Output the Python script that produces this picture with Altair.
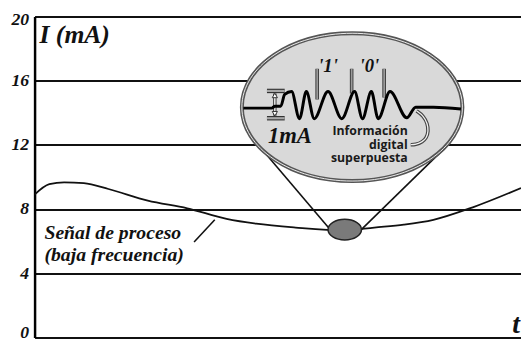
import altair as alt
import pandas as pd

# ---------------- data (t in time units, values in mA) ----------------
y_ticks = [0, 4, 8, 12, 16, 20]

# process signal (low frequency)
signal_t = [0, 15, 30, 50, 75, 115, 155, 195, 225, 265, 315, 345, 375, 405, 445, 494]
signal_mA = [8.9, 9.55, 9.67, 9.61, 9.25, 8.53, 8.05, 7.39, 7.09, 6.85, 6.67, 6.85, 7.03, 7.33, 8.11, 9.31]

# magnifier (lens) and the spot on the signal it magnifies
lens_t, lens_mA = [322.5], [14.35]
spot_t, spot_mA = [315], [6.72]
conn_t, conn_mA = [227, 417], [12.01, 11.83]
conn_t2, conn_mA2 = [301, 331], [6.67, 6.67]

# superimposed digital (FSK) signal inside the lens
wave_t = [212, 241, 244, 250, 254, 261, 269, 276, 284, 298, 312, 325, 333, 342, 349, 361, 378, 387, 405, 433]
wave_mA = [14.29, 14.29, 14.41, 14.41, 15.14, 15.32, 13.63, 15.32, 13.63, 15.32, 13.63, 15.32, 13.63,
           15.32, 13.63, 15.32, 13.69, 14.35, 14.35, 14.23]

# bit separators and bit labels
sep_t = [287, 322, 355]
sep_top = [16.74, 16.74, 16.74]
sep_bottom = [14.83, 15.2, 14.95]
bit_text = ["'1'", "'0'"]
bit_t = [298, 340]
bit_mA = [16.52, 16.52]

# 1 mA amplitude bracket
bar_t, bar_t2, bar_mA = [236, 236], [254, 254], [15.36, 13.66]
arrow_t, arrow_top, arrow_bottom = [244], [15.2], [13.82]
head_t, head_mA, head_shape = [244, 244], [15.08, 13.94], ["triangle-up", "triangle-down"]
amp_text, amp_t, amp_mA = ["1mA"], [237], [12.13]

# note text (three lines) and its pointer
info_lines = ["Información", "digital", "superpuesta"]
info_t, info_mA = [379], [12.6]
hook_t = [388, 395, 399, 400, 398, 394, 387, 382]
hook_mA = [14.11, 13.81, 13.33, 12.85, 12.43, 12.19, 12.01, 12.01]

# process signal label and its pointer
proc_lines = ["Señal de proceso", "(baja frecuencia)"]
proc_t = [10, 10]
proc_mA = [6.13, 4.74]
slash_t, slash_mA, slash_t2, slash_mA2 = [162], [5.95], [183], [7.33]

# axis captions
ycap_text, ycap_t, ycap_mA = ["I (mA)"], [5], [18.32]
tcap_text, tcap_t, tcap_mA = ["t"], [493], [0.25]

# ---------------- chart ----------------
SERIF = "Liberation Serif"
xs = alt.Scale(domain=[0, 494], nice=False, zero=False)
ys = alt.Scale(domain=[0, 20], nice=False)
yaxis = alt.Axis(
    values=y_ticks, title=None, grid=True, gridColor="#111", gridWidth=2, gridOpacity=1,
    domain=True, domainColor="#000", domainWidth=2.5, ticks=False,
    labelFont=SERIF, labelFontSize=18, labelFontStyle="italic", labelFontWeight="bold",
    labelColor="#111", labelPadding=6,
    labelBaseline={"condition": {"test": "datum.value == 0", "value": "alphabetic"}, "value": "middle"},
    labelOffset={"condition": {"test": "datum.value == 20", "value": 3}, "value": 0},
)
X = alt.X("t:Q", scale=xs, axis=None)
Y = alt.Y("v:Q", scale=ys, axis=yaxis)


def df(t, v, **extra):
    d = {"t": t, "v": v}
    d.update(extra)
    return pd.DataFrame(d)


def ellipse_path(r):
    k = 0.5523
    return (f"M -1 0 C -1 {-k*r:.4f} {-k:.4f} {-r} 0 {-r} "
            f"C {k:.4f} {-r} 1 {-k*r:.4f} 1 0 "
            f"C 1 {k*r:.4f} {k:.4f} {r} 0 {r} "
            f"C {-k:.4f} {r} -1 {k*r:.4f} -1 0 Z")


signal = alt.Chart(df(signal_t, signal_mA)).mark_line(
    color="#111", strokeWidth=1.8, interpolate="monotone", clip=True).encode(x=X, y=Y)

slash = alt.Chart(df(slash_t, slash_mA, t2=slash_t2, v2=slash_mA2)).mark_rule(
    color="#111", strokeWidth=1.6).encode(x=X, y=Y, x2="t2:Q", y2="v2:Q")

conn = alt.Chart(df(conn_t, conn_mA, t2=conn_t2, v2=conn_mA2)).mark_rule(
    color="#111", strokeWidth=1.6).encode(x=X, y=Y, x2="t2:Q", y2="v2:Q")

spot = alt.Chart(df(spot_t, spot_mA)).mark_point(
    shape=ellipse_path(0.62), size=1156, filled=True, fill="#7a7a7a", stroke="#222",
    strokeWidth=1.5, opacity=1, fillOpacity=1, strokeOpacity=1).encode(x=X, y=Y)

lens = alt.Chart(df(lens_t, lens_mA)).mark_point(
    shape=ellipse_path(0.67), size=50176, filled=True, fill="#d9d9d9", stroke="#555",
    strokeWidth=4, opacity=1, fillOpacity=1, strokeOpacity=1).encode(x=X, y=Y)
lens_ring = alt.Chart(df(lens_t, lens_mA)).mark_point(
    shape=ellipse_path(0.67), size=50176, filled=False, stroke="#ececec",
    strokeWidth=1, opacity=1, strokeOpacity=1).encode(x=X, y=Y)

sep_df = df(sep_t, sep_top, v2=sep_bottom)
sep_dark = alt.Chart(sep_df).mark_rule(color="#333", strokeWidth=3.6).encode(x=X, y=Y, y2="v2:Q")
sep_light = alt.Chart(sep_df).mark_rule(color="#9a9a9a", strokeWidth=1.8).encode(x=X, y=Y, y2="v2:Q")

bar_df = df(bar_t, bar_mA, t2=bar_t2)
bar_dark = alt.Chart(bar_df).mark_rule(color="#333", strokeWidth=4.5).encode(x=X, y=Y, x2="t2:Q")
bar_light = alt.Chart(bar_df).mark_rule(color="#a8a8a8", strokeWidth=2.2).encode(x=X, y=Y, x2="t2:Q")
arr_df = df(arrow_t, arrow_top, v2=arrow_bottom)
arr_dark = alt.Chart(arr_df).mark_rule(color="#333", strokeWidth=3.4).encode(x=X, y=Y, y2="v2:Q")
arr_light = alt.Chart(arr_df).mark_rule(color="#fff", strokeWidth=1.4).encode(x=X, y=Y, y2="v2:Q")
heads = alt.Chart(df(head_t, head_mA, shape=head_shape)).mark_point(
    filled=True, fill="#fff", stroke="#333", strokeWidth=1, size=28, opacity=1, fillOpacity=1).encode(
    x=X, y=Y, shape=alt.Shape("shape:N", scale=None))

wave = alt.Chart(df(wave_t, wave_mA)).mark_line(
    color="#000", strokeWidth=3, interpolate="monotone").encode(x=X, y=Y)

hook_df = df(hook_t, hook_mA, i=list(range(len(hook_t))))
hook_dark = alt.Chart(hook_df).mark_line(color="#444", strokeWidth=3.6, interpolate="basis").encode(
    x=X, y=Y, order="i:Q")
hook_light = alt.Chart(hook_df).mark_line(color="#f2f2f2", strokeWidth=1.3, interpolate="basis").encode(
    x=X, y=Y, order="i:Q")


def serif_text(t, v, txt, size, align="left"):
    return alt.Chart(df(t, v, txt=txt)).mark_text(
        font=SERIF, fontStyle="italic", fontWeight="bold", fontSize=size, align=align,
        baseline="alphabetic", color="#111").encode(x=X, y=Y, text="txt:N")


bits = serif_text(bit_t, bit_mA, bit_text, 19, "center")
amp = serif_text(amp_t, amp_mA, amp_text, 23)
proc = serif_text(proc_t, proc_mA, proc_lines, 20)
ycap = serif_text(ycap_t, ycap_mA, ycap_text, 26)
tcap = serif_text(tcap_t, tcap_mA, tcap_text, 28, "right")

info = alt.Chart(df(info_t, info_mA, txt=["\n".join(info_lines)])).mark_text(
    font="Open Sans", fontWeight="bold", fontSize=12.5, align="right", baseline="alphabetic",
    lineBreak="\n", lineHeight=13.8, color="#1a1a1a").encode(x=X, y=Y, text="txt:N")

chart = alt.layer(
    signal, slash, conn, spot, lens, lens_ring,
    sep_dark, sep_light, bar_dark, bar_light, arr_dark, arr_light, heads,
    hook_dark, hook_light, wave, bits, amp, info, proc, ycap, tcap,
).properties(
    width=494, height=326,
    autosize=alt.AutoSizeParams(type="none"),
    padding={"left": 27, "top": 6, "right": 0, "bottom": 2},
).configure_view(strokeWidth=0)

chart.save("out.html", embed_options={"renderer": "svg", "actions": False})
